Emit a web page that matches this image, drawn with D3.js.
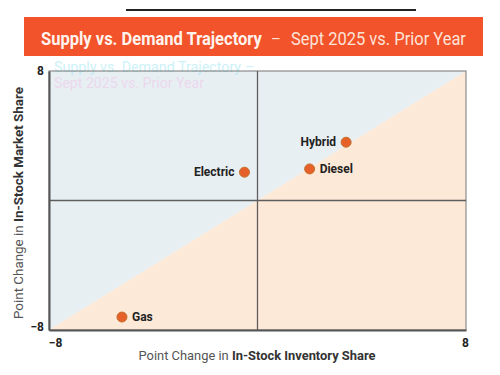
<!DOCTYPE html>
<html><head><meta charset="utf-8">
<script src="https://cdn.jsdelivr.net/npm/d3@7"></script>
<style>body{margin:0;background:#fff}svg{display:block}</style>
</head><body>
<svg id="c" width="500" height="375"></svg>
<script>
const names = ["Hybrid","Electric","Diesel","Gas"];
const inventoryChange = [3.4,-0.5,2.0,-5.2];
const marketChange = [3.6,1.75,1.95,-7.2];
const labelSide = ["left","left","right","right"];
const xTicks = [-8,8];
const yTicks = [-8,8];
const titleBold = "Supply vs. Demand Trajectory";
const titleLight = "Sept 2025 vs. Prior Year";

const svg = d3.select("#c");
const x = d3.scaleLinear().domain([-8,8]).range([49,466]);
const y = d3.scaleLinear().domain([-8,8]).range([330,71]);

// fit a text horizontally into [left, left+width] by scaling x
function fitText(sel, left, baseline, width){
  const w = sel.node().getComputedTextLength();
  const k = width / w;
  sel.attr("x",0).attr("y",0).attr("transform",`translate(${left},${baseline}) scale(${k},1)`);
}

// top rule
svg.append("line").attr("x1",126).attr("x2",416).attr("y1",10).attr("y2",10)
  .attr("stroke","#222").attr("stroke-width",2);
// banner
svg.append("rect").attr("x",24).attr("y",17).attr("width",459).attr("height",39).attr("fill","#f2532a");
const tb = svg.append("text").attr("fill","#fff3ee")
  .attr("font-family","Roboto").attr("font-weight",700).attr("font-size",18).text(titleBold);
fitText(tb,41,45,221);
svg.append("text").attr("x",271).attr("y",44).attr("fill","#fde3d8")
  .attr("font-family","Roboto").attr("font-size",15).text("–");
const tl = svg.append("text").attr("fill","#fde3d8")
  .attr("font-family","Roboto").attr("font-size",18).text(titleLight);
fitText(tl,291,45,175);

// background triangles
const [x0,x1] = x.range(), [y0,y1] = y.range();
svg.append("path").attr("d",`M${x0},${y0}L${x0},${y1}L${x1},${y1}Z`).attr("fill","#e8eff3");
svg.append("path").attr("d",`M${x0},${y0}L${x1},${y1}L${x1},${y0}Z`).attr("fill","#fde9d7");

// faint ghost copy of the title seen in the reference
const ghost = svg.append("g").attr("font-family","Roboto").attr("font-size",14).attr("opacity",0.4);
ghost.append("text").attr("x",54).attr("y",72).attr("fill","#7fe0ee")
  .attr("textLength",200).attr("lengthAdjust","spacingAndGlyphs").text(titleBold+" –");
ghost.append("text").attr("x",54).attr("y",88).attr("fill","#f2b6e6")
  .attr("textLength",150).attr("lengthAdjust","spacingAndGlyphs").text(titleLight);

// border
svg.append("rect").attr("x",x0).attr("y",y1).attr("width",x1-x0).attr("height",y0-y1)
  .attr("fill","none").attr("stroke","#777").attr("stroke-width",1);
// mid lines
svg.append("line").attr("x1",x(0)).attr("x2",x(0)).attr("y1",y1).attr("y2",y0).attr("stroke","#5e5e5e").attr("stroke-width",1.3);
svg.append("line").attr("x1",x0).attr("x2",x1).attr("y1",y(0)).attr("y2",y(0)).attr("stroke","#5e5e5e").attr("stroke-width",1.3);

// axes
const xa = svg.append("g").attr("transform",`translate(0,${y0})`)
  .call(d3.axisBottom(x).tickValues(xTicks).tickSize(0).tickPadding(8).tickFormat(d3.format("d")));
const ya = svg.append("g").attr("transform",`translate(${x0},0)`)
  .call(d3.axisLeft(y).tickValues(yTicks).tickSize(0).tickPadding(5).tickFormat(d3.format("d")));
[xa,ya].forEach(a=>{
  a.select(".domain").attr("stroke","#555").attr("stroke-width",2);
  a.selectAll("text").attr("font-family","Roboto").attr("font-weight",700).attr("font-size",12).attr("fill","#222");
});
xa.selectAll(".tick text").attr("transform",(d)=>`translate(${d<0?6:-1},0)`);
ya.selectAll(".tick text").attr("transform",(d)=>`translate(0,${d<0?-3:0})`);

// axis titles
const xt = svg.append("text").attr("x",257).attr("y",360).attr("text-anchor","middle")
  .attr("font-family","Roboto").attr("font-size",13).attr("fill","#555");
xt.append("tspan").text("Point Change in ");
xt.append("tspan").attr("font-weight",700).attr("fill","#333").text("In-Stock Inventory Share");
xt.attr("textLength",237).attr("lengthAdjust","spacingAndGlyphs");
const yt = svg.append("text").attr("transform","translate(23,203) rotate(-90)").attr("text-anchor","middle")
  .attr("font-family","Roboto").attr("font-size",13).attr("fill","#555");
yt.append("tspan").text("Point Change in ");
yt.append("tspan").attr("font-weight",700).attr("fill","#333").text("In-Stock Market Share");
yt.attr("textLength",232).attr("lengthAdjust","spacingAndGlyphs");

// points
const data = names.map((n,i)=>({n,x:inventoryChange[i],y:marketChange[i],s:labelSide[i]}));
const g = svg.append("g");
g.selectAll("circle").data(data).join("circle")
  .attr("cx",d=>x(d.x)).attr("cy",d=>y(d.y)).attr("r",5)
  .attr("fill","#e6612a").attr("stroke","#c4702e").attr("stroke-width",1);
g.selectAll("text").data(data).join("text")
  .attr("x",d=>x(d.x)+(d.s==="left"?-10:10)).attr("y",d=>y(d.y)+4)
  .attr("text-anchor",d=>d.s==="left"?"end":"start")
  .attr("font-family","Roboto").attr("font-weight",700).attr("font-size",12).attr("fill","#222")
  .text(d=>d.n);
</script>
</body></html>
